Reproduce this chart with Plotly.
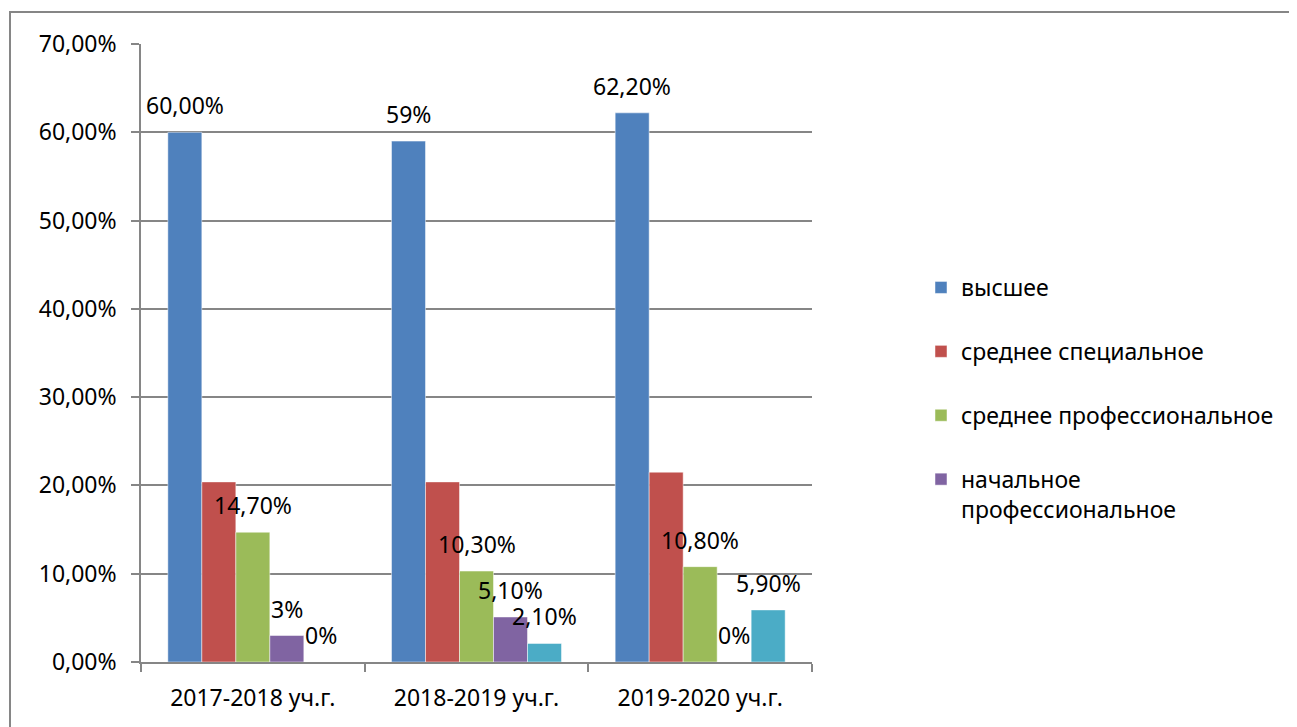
import plotly.graph_objects as go

categories = ["2017-2018 уч.г.", "2018-2019 уч.г.", "2019-2020 уч.г."]

series_names = ["высшее", "среднее специальное", "среднее профессиональное",
                "начальное<br>профессиональное", ""]
vysshee = [60.0, 59.0, 62.2]
srednee_spec = [20.4, 20.4, 21.5]
srednee_prof = [14.7, 10.3, 10.8]
nachalnoe_prof = [3.0, 5.1, 0.0]
prochee = [0.0, 2.1, 5.9]

labels_vysshee = ["60,00%", "59%", "62,20%"]
labels_srednee_spec = [None, None, None]
labels_srednee_prof = ["14,70%", "10,30%", "10,80%"]
labels_nachalnoe = ["3%", "5,10%", "0%"]
labels_prochee = ["0%", "2,10%", "5,90%"]

y_ticks = [0, 10, 20, 30, 40, 50, 60, 70]
y_ticktext = ["0,00%", "10,00%", "20,00%", "30,00%", "40,00%", "50,00%", "60,00%", "70,00%"]

colors = ["#4F81BD", "#C0504D", "#9BBB59", "#8064A2", "#4BACC6"]
values = [vysshee, srednee_spec, srednee_prof, nachalnoe_prof, prochee]
labels = [labels_vysshee, labels_srednee_spec, labels_srednee_prof, labels_nachalnoe, labels_prochee]

FONT = "Noto Sans"
FS = 23
BARGAP = 0.24

fig = go.Figure()
for i, (name, vals, col) in enumerate(zip(series_names, values, colors)):
    fig.add_trace(go.Bar(
        name=name, x=categories, y=vals,
        marker=dict(color=col, line=dict(width=0.8, color="rgba(255,255,255,0.6)")),
        showlegend=(name != ""),
        legendgroup=f"g{i}",
    ))

n = len(values)
w = (1 - BARGAP) / n
annotations = []
for i, (vals, labs) in enumerate(zip(values, labels)):
    for j, (v, lab) in enumerate(zip(vals, labs)):
        if lab is None:
            continue
        annotations.append(dict(
            x=j + (i - (n - 1) / 2) * w, y=v, xref="x", yref="y",
            text=lab, showarrow=False, yanchor="middle", xanchor="center",
            yshift=27, font=dict(family=FONT, size=FS, color="#000000"),
        ))

fig.update_layout(
    width=1297, height=727,
    margin=dict(l=133, r=493, t=36, b=73),
    paper_bgcolor="white", plot_bgcolor="white",
    barmode="group", bargap=BARGAP, bargroupgap=0,
    font=dict(family=FONT, size=FS, color="#000000"),
    annotations=annotations,
    legend=dict(
        xref="container", yref="container",
        x=913 / 1297, y=1 - 258 / 727, xanchor="left", yanchor="top",
        font=dict(family=FONT, size=FS, color="#000000"),
        tracegroupgap=31, valign="top", itemwidth=30,
        bgcolor="rgba(0,0,0,0)",
    ),
    xaxis=dict(
        showgrid=False, showline=True, linecolor="#868686", linewidth=1.5,
        ticks="outside", tickson="boundaries", ticklen=8, tickcolor="#868686", tickwidth=1.5,
        ticklabelstandoff=15,
        tickfont=dict(family=FONT, size=FS),
    ),
    yaxis=dict(
        range=[0, 70], tickvals=y_ticks, ticktext=y_ticktext,
        showgrid=True, gridcolor="#868686", gridwidth=1.5,
        showline=True, linecolor="#868686", linewidth=1.5,
        ticks="outside", ticklen=8, tickcolor="#868686", tickwidth=1.5,
        ticklabelstandoff=10, zeroline=False,
        tickfont=dict(family=FONT, size=FS),
    ),
    shapes=[dict(type="rect", xref="paper", yref="paper",
                 x0=(10 - 141) / 671, x1=3, y0=-2, y1=(662 - 12) / 618,
                 line=dict(color="#868686", width=2), fillcolor="rgba(0,0,0,0)", layer="below")],
)

fig.write_html("out.html")
